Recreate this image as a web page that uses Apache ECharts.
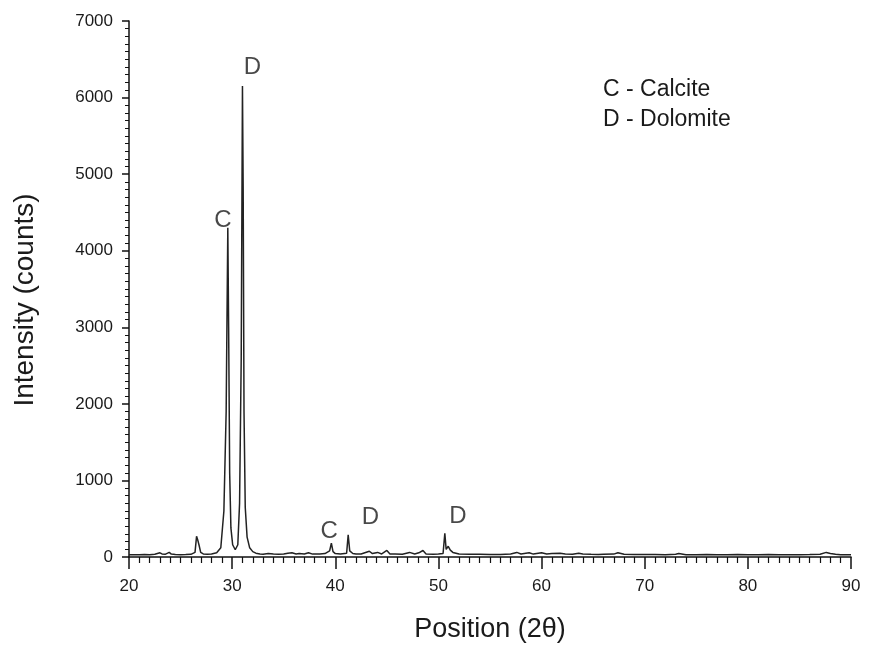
<!DOCTYPE html>
<html>
<head>
<meta charset="utf-8">
<script src="https://cdn.jsdelivr.net/npm/echarts@6/dist/echarts.min.js"></script>
<style>html,body{margin:0;padding:0;background:#fff}#c{width:870px;height:653px}</style>
</head>
<body>
<div id="c"></div>
<script>
const twoTheta = [
  20, 20.5, 21, 21.5, 22, 22.5, 23, 23.2, 23.5, 23.9, 24.1, 24.5, 25, 25.5, 26, 26.4, 26.55, 26.65, 26.8, 26.95, 27.2, 27.6, 28, 28.5,
  28.9, 29.2, 29.42, 29.58, 29.66, 29.76, 29.88, 30.05, 30.3, 30.55, 30.72, 30.88, 31.0, 31.07, 31.15, 31.27, 31.45, 31.7, 32.0, 32.3, 32.7,
  33, 33.5, 34, 34.5, 35, 35.4, 35.8, 36.2, 36.5, 37, 37.4, 37.8, 38.5, 39, 39.45, 39.62, 39.78, 40.0, 40.5, 41.1, 41.25, 41.4, 41.7,
  42, 42.5, 43.3, 43.6, 44.1, 44.5, 45.0, 45.3, 45.8, 46.5, 47.2, 47.7, 48.1, 48.5, 48.8, 49.5, 50, 50.45, 50.62, 50.75, 50.95, 51.15, 51.4,
  52, 53, 54, 55, 56, 57, 57.6, 58, 58.8, 59.2, 60, 60.5, 61, 61.8, 62.3, 63, 63.6, 64, 64.8, 65.5, 66, 67, 67.4, 68, 69, 70, 71,
  72, 73, 73.3, 74, 75, 76, 77, 78, 79, 80, 81, 82, 83, 84, 85, 86, 87, 87.6, 88, 88.5, 89, 90
];
const counts = [
  30, 28, 30, 32, 30, 35, 55, 40, 35, 60, 38, 32, 30, 32, 35, 60, 270, 230, 150, 60, 40, 35, 40, 55,
  120, 600, 1900, 4300, 3000, 1100, 380, 160, 95, 160, 700, 2600, 6150, 4800, 1900, 650, 260, 120, 70, 50, 40,
  35, 45, 38, 35, 40, 50, 55, 40, 45, 40, 55, 38, 40, 45, 80, 180, 70, 45, 40, 50, 290, 80, 45,
  38, 40, 75, 45, 60, 40, 85, 40, 38, 35, 60, 40, 55, 85, 40, 35, 38, 45, 310, 100, 140, 90, 60,
  38, 35, 35, 32, 34, 38, 60, 40, 55, 38, 55, 38, 45, 50, 38, 35, 50, 40, 35, 32, 35, 38, 55, 35, 32, 34, 32,
  30, 35, 45, 30, 30, 32, 30, 30, 32, 30, 30, 32, 30, 30, 30, 32, 35, 60, 45, 35, 30, 30
];
// Phase labels: [2θ, counts, text]
const peakLabels = [
  [29.11, 4390, 'C'],
  [31.97, 6400, 'D'],
  [39.4, 340, 'C'],
  [43.4, 520, 'D'],
  [51.9, 530, 'D']
];
const legendLines = ['C - Calcite', 'D - Dolomite'];
const xTicks = [20, 30, 40, 50, 60, 70, 80, 90];
const yTicks = [0, 1000, 2000, 3000, 4000, 5000, 6000, 7000];

const font = 'Liberation Sans, Arial, sans-serif';
const ink = '#1a1a1a';
const chart = echarts.init(document.getElementById('c'), null, {renderer: 'canvas'});
chart.setOption({
  animation: false,
  backgroundColor: '#fff',
  grid: {left: 129, right: 19, top: 21, bottom: 96, containLabel: false},
  xAxis: {
    type: 'value', min: xTicks[0], max: xTicks[xTicks.length - 1], interval: 10,
    name: 'Position (2θ)', nameLocation: 'middle', nameGap: 59,
    nameTextStyle: {fontFamily: font, fontSize: 27, color: ink},
    axisLine: {show: true, onZero: false, lineStyle: {color: '#111', width: 1.5}},
    axisTick: {show: true, inside: false, length: 12, lineStyle: {color: '#111', width: 1.5}},
    minorTick: {show: true, splitNumber: 10, length: 6, lineStyle: {color: '#111', width: 1.2}},
    axisLabel: {fontFamily: font, fontSize: 17, color: ink, margin: 21, formatter: v => String(v)},
    splitLine: {show: false}
  },
  yAxis: {
    type: 'value', min: yTicks[0], max: yTicks[yTicks.length - 1], interval: 1000,
    name: 'Intensity (counts)', nameLocation: 'middle', nameGap: 90, nameRotate: 90,
    nameTextStyle: {fontFamily: font, fontSize: 28, color: ink, padding: [0, 22, 0, 0]},
    axisLine: {show: true, lineStyle: {color: '#111', width: 1.5}},
    axisTick: {show: true, inside: false, length: 7, lineStyle: {color: '#111', width: 1.5}},
    minorTick: {show: true, splitNumber: 10, length: 4, lineStyle: {color: '#111', width: 1}},
    axisLabel: {fontFamily: font, fontSize: 17, color: ink, margin: 16, formatter: v => String(v)},
    splitLine: {show: false}
  },
  series: [
    {
      type: 'line', name: 'XRD',
      data: twoTheta.map((t, i) => [t, counts[i]]),
      symbol: 'none', smooth: false,
      lineStyle: {color: '#222', width: 1.5},
      z: 3
    },
    {
      type: 'scatter', name: 'labels',
      data: peakLabels.map(p => ({value: [p[0], p[1]], name: p[2]})),
      symbolSize: 0,
      label: {show: true, position: 'inside', formatter: p => p.name,
        fontFamily: font, fontSize: 24, color: ink},
      silent: true, z: 4
    }
  ],
  graphic: legendLines.map((t, i) => ({
    type: 'text', left: 603, top: 78 + i * 30,
    style: {text: t, fontFamily: font, fontSize: 23, fill: ink}
  }))
});
</script>
</body>
</html>
